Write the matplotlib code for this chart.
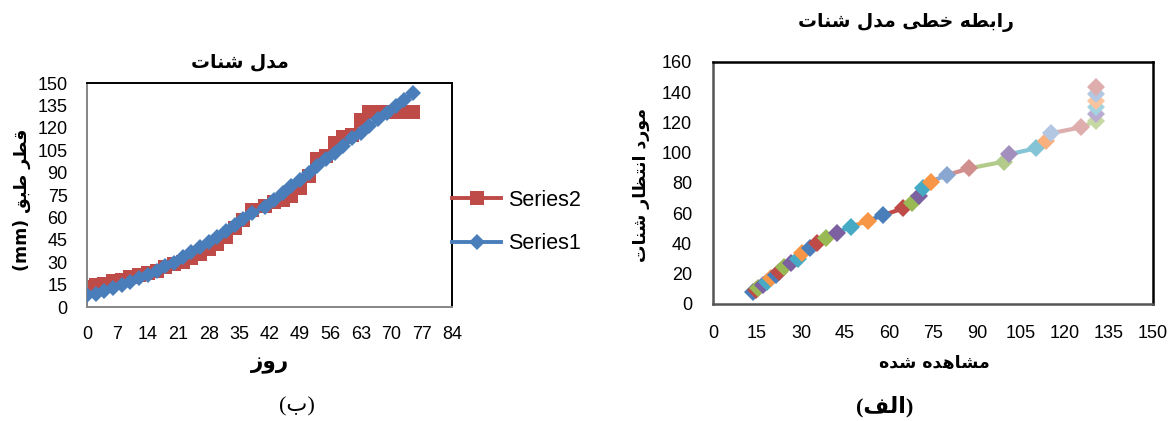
import matplotlib
matplotlib.use("Agg")
import matplotlib.pyplot as plt
from matplotlib.lines import Line2D

# --- data ---
days = [0, 2, 4, 6, 8, 10, 12, 14, 16, 18, 20, 22, 24, 26, 28, 30, 32, 34, 36, 38,
        41, 43, 45, 47, 49, 51, 53, 55, 57, 59, 61, 63, 65, 67, 69, 71, 73, 75]
# Series1 = expected (model), Series2 = observed
series1 = [8.1, 9.0, 10.4, 12.6, 14.8, 17.0, 19.2, 21.4, 24.2, 27.3, 29.5, 33.5, 36.8,
           40.1, 43.4, 47.1, 51.1, 54.9, 58.8, 63.2, 67.0, 71.4, 76.5, 80.9, 85.3, 89.7,
           94.1, 99.0, 102.9, 107.8, 112.9, 116.8, 121.0, 125.6, 130.0, 134.4, 138.8, 143.3]
series2 = [13.7, 14.5, 15.4, 17.1, 18.4, 19.9, 21.4, 22.5, 24.2, 26.7, 29.0, 30.3, 32.9,
           35.5, 38.6, 42.3, 47.0, 52.7, 58.1, 64.8, 67.8, 70.2, 71.7, 74.2, 79.8, 87.4,
           99.1, 101.0, 110.0, 113.6, 115.3, 125.4, 130.4, 130.4, 130.4, 130.4, 130.4, 130.4]

left_xticks = list(range(0, 85, 7))
left_yticks = list(range(0, 151, 15))
right_xticks = list(range(0, 151, 15))
right_yticks = list(range(0, 161, 20))

# excel "vary colours by point"
base = ['#4A7EBB', '#BE4B48', '#98B954', '#7D60A0', '#46AAC5', '#F79646']
light1 = ['#8AA7D2', '#D08F8D', '#B2CB8A', '#A28FBE', '#85C4D6', '#F9B07C']
light2 = ['#B4C7E2', '#DDAEAD', '#C6D8A4', '#BAACD0', '#A4D3E2', '#FAC49C']
point_cols = (base * 4)[:24] + light1 + light2 + light2[:2]

# --- arabic shaping (matplotlib has no bidi / joining) ---
FORMS = {
    'ا': ('\uFE8D', '\uFE8E', None, None),
    'ب': ('\uFE8F', '\uFE90', '\uFE91', '\uFE92'),
    'ت': ('\uFE95', '\uFE96', '\uFE97', '\uFE98'),
    'خ': ('\uFEA5', '\uFEA6', '\uFEA7', '\uFEA8'),
    'د': ('\uFEA9', '\uFEAA', None, None),
    'ر': ('\uFEAD', '\uFEAE', None, None),
    'ز': ('\uFEAF', '\uFEB0', None, None),
    'ش': ('\uFEB5', '\uFEB6', '\uFEB7', '\uFEB8'),
    'ط': ('\uFEC1', '\uFEC2', '\uFEC3', '\uFEC4'),
    'ظ': ('\uFEC5', '\uFEC6', '\uFEC7', '\uFEC8'),
    'ف': ('\uFED1', '\uFED2', '\uFED3', '\uFED4'),
    'ق': ('\uFED5', '\uFED6', '\uFED7', '\uFED8'),
    'ل': ('\uFEDD', '\uFEDE', '\uFEDF', '\uFEE0'),
    'م': ('\uFEE1', '\uFEE2', '\uFEE3', '\uFEE4'),
    'ن': ('\uFEE5', '\uFEE6', '\uFEE7', '\uFEE8'),
    'ه': ('\uFEE9', '\uFEEA', '\uFEEB', '\uFEEC'),
    'و': ('\uFEED', '\uFEEE', None, None),
    'ی': ('\uFBFC', '\uFBFD', '\uFBFE', '\uFBFF'),
}
MIRROR = {'(': ')', ')': '('}


def shape(s):
    out = []
    for i, c in enumerate(s):
        if c not in FORMS:
            out.append(MIRROR.get(c, c))
            continue
        prev = s[i - 1] if i > 0 else ''
        nxt = s[i + 1] if i + 1 < len(s) else ''
        jp = prev in FORMS and FORMS[prev][2] is not None
        jn = FORMS[c][2] is not None and nxt in FORMS
        iso, fin, ini, med = FORMS[c]
        if jp and jn:
            out.append(med)
        elif jp:
            out.append(fin)
        elif jn:
            out.append(ini)
        else:
            out.append(iso)
    return ''.join(reversed(out))


W, H = 1174, 421
LAT = ['Liberation Sans', 'DejaVu Sans']
AR = ['DejaVu Sans']
plt.rcParams['font.family'] = LAT


def P(x, y):
    return x / W, 1 - y / H


fig = plt.figure(figsize=(W / 100, H / 100), dpi=100)

# ---------------- left chart (ب) ----------------
ax1 = fig.add_axes([87 / W, 1 - 307 / H, 365 / W, 224 / H])
ax1.plot(days, series2, color='#BE4B48', lw=2.8, marker='s', ms=10,
         markeredgewidth=0, label='Series2', zorder=2)
ax1.plot(days, series1, color='#4A7EBB', lw=2.8, marker='D', ms=8,
         markeredgewidth=0, label='Series1', zorder=3)
ax1.set_xlim(0, 84)
ax1.set_ylim(0, 150)
ax1.set_xticks(left_xticks)
ax1.set_yticks(left_yticks)
ax1.tick_params(length=0, labelsize=13, pad=14)
ax1.tick_params(axis='y', pad=14)
for sp in ['top', 'right']:
    ax1.spines[sp].set_color('black')
    ax1.spines[sp].set_linewidth(1.4)
for sp in ['left', 'bottom']:
    ax1.spines[sp].set_color('#868686')
    ax1.spines[sp].set_linewidth(1.4)

fig.text(*P(240, 62), shape('مدل شنات'), family=AR, fontsize=13.5, weight='bold',
         ha='center', va='center')
fig.text(*P(22, 200), shape('قطر طبق (mm)'), family=AR, fontsize=12.5, weight='bold',
         ha='center', va='center', rotation=90)
fig.text(*P(270, 364), shape('روز'), family=AR, fontsize=15.5, weight='bold',
         ha='center', va='center')
fig.text(*P(297, 407), shape('(ب)'), family=['Liberation Serif', 'DejaVu Sans'],
         fontsize=16, ha='center', va='center')

handles = [Line2D([], [], color='#BE4B48', lw=2.8, marker='s', ms=10, markeredgewidth=0),
           Line2D([], [], color='#4A7EBB', lw=2.8, marker='D', ms=8, markeredgewidth=0)]
fig.legend(handles, ['Series2', 'Series1'], loc='center left',
           bbox_to_anchor=P(441, 222), frameon=False, fontsize=15.5,
           handlelength=2.3, handletextpad=0.3, labelspacing=1.05, borderpad=0)

# ---------------- right chart (الف) ----------------
ax2 = fig.add_axes([713 / W, 1 - 304 / H, 440 / W, 242 / H])
for i in range(1, len(series2)):
    ax2.plot(series2[i - 1:i + 1], series1[i - 1:i + 1], color=point_cols[i],
             lw=3, solid_capstyle='butt', zorder=2)
for i in range(len(series2)):
    ax2.plot(series2[i], series1[i], linestyle='none', marker='D', ms=9,
             color=point_cols[i], markeredgewidth=0, zorder=3)
ax2.set_xlim(0, 150)
ax2.set_ylim(0, 160)
ax2.set_xticks(right_xticks)
ax2.set_yticks(right_yticks)
ax2.tick_params(length=0, labelsize=13, pad=15)
for sp in ax2.spines.values():
    sp.set_color('black')
    sp.set_linewidth(1.8)
for sp in ['left', 'bottom']:
    ax2.spines[sp].set_color('#555555')

fig.text(*P(906, 23), shape('رابطه خطی مدل شنات'), family=AR, fontsize=13.5,
         weight='bold', ha='center', va='center')
fig.text(*P(641, 185), shape('مورد انتظار شنات'), family=AR, fontsize=12.5,
         weight='bold', ha='center', va='center', rotation=90)
fig.text(*P(934, 363), shape('مشاهده شده'), family=AR, fontsize=12.5, weight='bold',
         ha='center', va='center')
fig.text(*P(885, 407), shape('(الف)'), family=['Liberation Serif', 'DejaVu Sans'],
         fontsize=16, weight='bold', ha='center', va='center')

fig.savefig('out.png', dpi=100)
